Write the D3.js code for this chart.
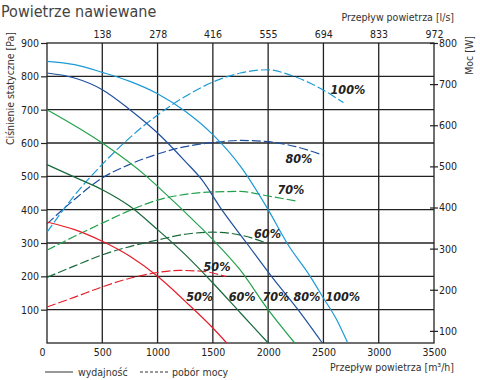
<!DOCTYPE html>
<html>
<head>
<meta charset="utf-8">
<script src="https://cdn.jsdelivr.net/npm/d3@7"></script>
<style>
  body { margin: 0; background: #fff; }
  svg text { font-family: "DejaVu Sans Condensed", "DejaVu Sans", sans-serif; }
</style>
</head>
<body>
<svg width="480" height="380"></svg>
<script>
// air flow [m3/h] on the bottom, pressure [Pa] left, power [W] right
var bottomTicks = [0, 500, 1000, 1500, 2000, 2500, 3000, 3500];
var topTicks = [138, 278, 416, 555, 694, 833, 972];
var leftTicks = [100, 200, 300, 400, 500, 600, 700, 800, 900];
var rightTicks = [100, 200, 300, 400, 500, 600, 700, 800];

var speeds = ['50%', '60%', '70%', '80%', '100%'];
var colors = ['#e61e2a', '#17693a', '#21a24b', '#1f4f9f', '#1b9ad8'];

// wydajnosc (solid): [flow, pressure]
var press50 = [[0,363],[250,340],[500,305],[750,260],[1000,200],[1250,125],[1500,45],[1625,0]];
var press60 = [[0,535],[300,490],[500,460],[750,410],[1000,340],[1250,265],[1500,180],[1750,90],[2000,0]];
var press70 = [[0,700],[500,600],[900,500],[1000,470],[1380,350],[1500,310],[1745,220],[2000,100],[2240,0]];
var press80 = [[0,810],[250,795],[500,760],[750,700],[1000,630],[1250,545],[1400,490],[1580,400],[1805,300],[2030,200],[2270,100],[2490,0]];
var press100 = [[0,845],[250,835],[500,812],[750,785],[1000,748],[1250,695],[1500,625],[1750,530],[2000,400],[2170,300],[2380,200],[2500,135],[2620,70],[2720,0]];

// pobor mocy (dashed): [flow, power]
var power50 = [[0,158],[250,182],[500,207],[750,228],[1000,242],[1200,247],[1400,245],[1620,232]];
var power60 = [[0,230],[250,258],[500,285],[750,305],[1000,321],[1250,335],[1500,340],[1750,333],[1990,313]];
var power70 = [[0,296],[250,330],[500,362],[750,393],[1000,418],[1250,432],[1500,438],[1750,439],[2000,428],[2250,416]];
var power80 = [[0,360],[250,420],[500,472],[750,505],[1000,530],[1250,548],[1500,558],[1750,563],[2000,560],[2250,548],[2490,528]];
var power100 = [[0,340],[250,430],[500,505],[750,570],[1000,625],[1250,670],[1500,705],[1750,727],[2000,735],[2200,722],[2470,690],[2680,655]];

var pressCurves = [press50, press60, press70, press80, press100];
var powerCurves = [power50, power60, power70, power80, power100];

var svg = d3.select('svg');
var ink = '#222';

var x = d3.scaleLinear().domain([0, 3500]).range([47, 434]);
var xTop = d3.scaleLinear().domain([0, 3500 / 3.6]).range([47, 434]);
var y = d3.scaleLinear().domain([0, 900]).range([343, 43]);
var yW = d3.scaleLinear().domain([0, 800]).range([372, 43]);

// title
svg.append('text')
   .attr('x', 1).attr('y', 17)
   .attr('font-size', 16).attr('fill', '#444')
   .text('Powietrze nawiewane');

// grid
svg.append('g')
   .selectAll('line')
   .data(leftTicks.slice(0, -1))
   .enter().append('line')
   .attr('x1', x(0)).attr('x2', x(3500))
   .attr('y1', function(d) { return y(d); })
   .attr('y2', function(d) { return y(d); })
   .attr('stroke', ink).attr('stroke-width', 1.3);

svg.append('g')
   .selectAll('line')
   .data(bottomTicks.slice(1, -1))
   .enter().append('line')
   .attr('y1', y(0)).attr('y2', y(900))
   .attr('x1', function(d) { return x(d); })
   .attr('x2', function(d) { return x(d); })
   .attr('stroke', ink).attr('stroke-width', 1.3);

// frame
svg.append('rect')
   .attr('x', x(0)).attr('y', y(900))
   .attr('width', x(3500) - x(0)).attr('height', y(0) - y(900))
   .attr('fill', 'none').attr('stroke', ink).attr('stroke-width', 1.3);

// left axis
var leftAxis = svg.append('g').attr('transform', 'translate(' + x(0) + ',0)')
   .call(d3.axisLeft(y).tickValues(leftTicks).tickSize(6).tickPadding(2));
// right axis
var rightAxis = svg.append('g').attr('transform', 'translate(' + x(3500) + ',0)')
   .call(d3.axisRight(yW).tickValues(rightTicks).tickSize(4).tickPadding(1));
rightAxis.selectAll('.tick line').attr('x1', -4);
// bottom axis
var bottomAxis = svg.append('g').attr('transform', 'translate(0,' + y(0) + ')')
   .call(d3.axisBottom(x).tickValues(bottomTicks).tickFormat(d3.format('d')).tickSize(0).tickPadding(6));
bottomAxis.selectAll('.tick text').filter(function(d) { return d === 0; }).attr('dx', -5);
// top axis
var topAxis = svg.append('g').attr('transform', 'translate(0,' + y(900) + ')')
   .call(d3.axisTop(xTop).tickValues(topTicks).tickSize(0).tickPadding(5));

[leftAxis, rightAxis, bottomAxis, topAxis].forEach(function(g) {
  g.select('.domain').remove();
  g.selectAll('.tick line').attr('stroke', ink).attr('stroke-width', 1.2);
  g.selectAll('.tick text').attr('fill', ink).attr('font-size', 10.5)
   .attr('font-family', '"DejaVu Sans Condensed", sans-serif');
});

// axis titles
svg.append('text')
   .attr('transform', 'translate(14,32) rotate(-90)')
   .attr('text-anchor', 'end').attr('font-size', 10.5).attr('fill', '#333')
   .text('Ciśnienie statyczne [Pa]');
svg.append('text')
   .attr('transform', 'translate(473,36) rotate(-90)')
   .attr('text-anchor', 'end').attr('font-size', 10.5).attr('fill', '#333')
   .text('Moc [W]');
svg.append('text')
   .attr('x', 454).attr('y', 21)
   .attr('text-anchor', 'end').attr('font-size', 10.5).attr('fill', '#333')
   .text('Przepływ powietrza [l/s]');
svg.append('text')
   .attr('x', 454).attr('y', 371)
   .attr('text-anchor', 'end').attr('font-size', 10.5).attr('fill', '#333')
   .text('Przepływ powietrza [m³/h]');

// curves
var pressLine = d3.line()
   .x(function(d) { return x(d[0]); })
   .y(function(d) { return y(d[1]); })
   .curve(d3.curveMonotoneX);
var powerLine = d3.line()
   .x(function(d) { return x(d[0]); })
   .y(function(d) { return yW(d[1]); })
   .curve(d3.curveMonotoneX);

svg.append('g')
   .selectAll('path')
   .data(powerCurves)
   .enter().append('path')
   .attr('d', powerLine)
   .attr('fill', 'none')
   .attr('stroke', function(d, i) { return colors[i]; })
   .attr('stroke-width', 1.2)
   .attr('stroke-dasharray', '9,3');

svg.append('g')
   .selectAll('path')
   .data(pressCurves)
   .enter().append('path')
   .attr('d', pressLine)
   .attr('fill', 'none')
   .attr('stroke', function(d, i) { return colors[i]; })
   .attr('stroke-width', 1.2);

// speed labels
var pressLabelX = [1380, 1765, 2070, 2350, 2675];
var powerLabelPos = [[1537, 245], [1994, 327], [2206, 432], [2278, 507], [2721, 676]];

var labels = svg.append('g');
labels.selectAll('text.press')
   .data(speeds)
   .enter().append('text')
   .attr('class', 'press')
   .attr('x', function(d, i) { return x(pressLabelX[i]); })
   .attr('y', y(125))
   .attr('text-anchor', 'middle')
   .text(function(d) { return d; });

labels.selectAll('text.power')
   .data(speeds)
   .enter().append('text')
   .attr('class', 'power')
   .attr('x', function(d, i) { return x(powerLabelPos[i][0]); })
   .attr('y', function(d, i) { return yW(powerLabelPos[i][1]); })
   .attr('text-anchor', 'middle')
   .text(function(d) { return d; });

labels.selectAll('text')
   .attr('font-family', '"Liberation Sans", Arial, sans-serif')
   .attr('font-size', 12.5).attr('font-weight', 'bold').attr('font-style', 'italic')
   .attr('fill', '#222');

// legend
svg.append('line').attr('x1', 45).attr('x2', 73).attr('y1', 372).attr('y2', 372)
   .attr('stroke', '#333').attr('stroke-width', 1);
svg.append('text').attr('x', 78).attr('y', 376).attr('font-size', 10.5).attr('fill', '#333')
   .text('wydajność');
svg.append('line').attr('x1', 140).attr('x2', 168).attr('y1', 372).attr('y2', 372)
   .attr('stroke', '#333').attr('stroke-width', 1).attr('stroke-dasharray', '3,2');
svg.append('text').attr('x', 172).attr('y', 376).attr('font-size', 10.5).attr('fill', '#333')
   .text('pobór mocy');
</script>
</body>
</html>
